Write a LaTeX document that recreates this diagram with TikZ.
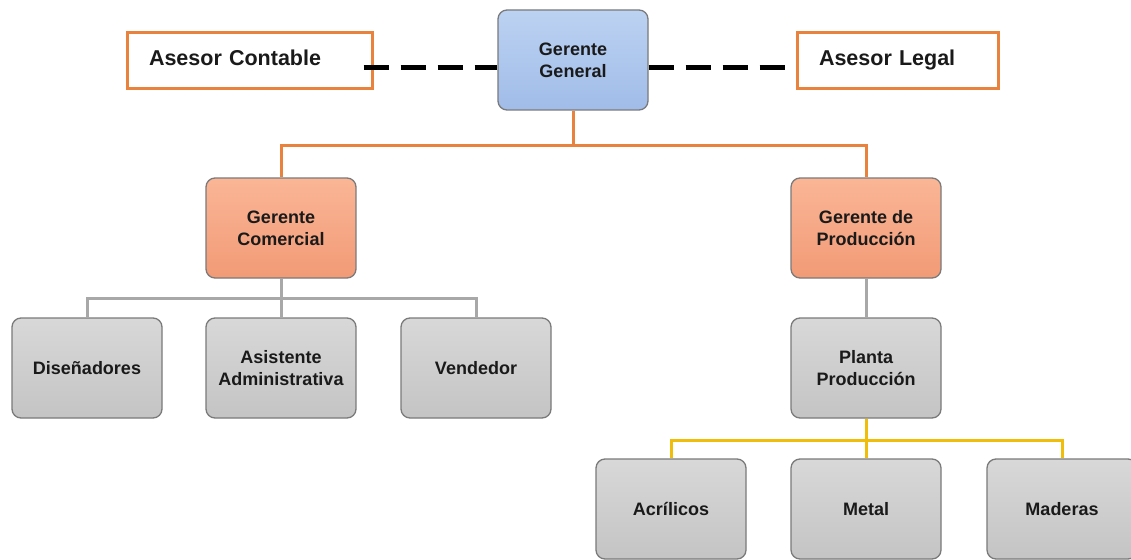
\documentclass[tikz,border=0pt]{standalone}
\usepackage{fontspec}
\setmainfont{Liberation Sans}
\definecolor{orangeline}{HTML}{E8823C}
\definecolor{yellowline}{HTML}{F0BE0A}
\definecolor{grayline}{HTML}{A8A8A8}
\definecolor{boxborder}{HTML}{7A7A7A}
\definecolor{txt}{HTML}{1A1A1A}
\tikzset{
  x=1pt, y=-1pt,
  orgbox/.style={draw=boxborder, line width=1.3pt, rounded corners=9pt,
    minimum width=150pt, minimum height=100pt, align=center, text=txt,
    font=\fontsize{18}{22}\selectfont\bfseries, inner sep=2pt},
  bluebox/.style={orgbox, top color={rgb,255:red,188;green,210;blue,242}, bottom color={rgb,255:red,160;green,188;blue,232}},
  salmonbox/.style={orgbox, top color={rgb,255:red,250;green,182;blue,150}, bottom color={rgb,255:red,242;green,154;blue,118}},
  graybox/.style={orgbox, top color={rgb,255:red,216;green,216;blue,216}, bottom color={rgb,255:red,196;green,196;blue,196}},
  advbox/.style={draw=orangeline, line width=3pt, fill=white, minimum width=245pt, minimum height=56pt,
    text width=201pt, inner xsep=22pt, align=left, text=txt, text depth=7pt,
    font=\fontsize{21.5}{24}\selectfont\bfseries},
  dashline/.style={draw=black, line width=5pt, dash pattern=on 25pt off 12pt},
  oline/.style={draw=orangeline, line width=3pt},
  gline/.style={draw=grayline, line width=3pt},
  yline/.style={draw=yellowline, line width=3pt},
}
\begin{document}
\begin{tikzpicture}
\useasboundingbox (0,0) rectangle (1131,559);
\fill[white] (0,0) rectangle (1131,559);
\node[bluebox] (gg) at (573,60) {Gerente\\General};
\node[advbox] (ac) at (249.5,61) {Asesor Contable};
\node[advbox, minimum width=201pt, text width=157pt] (al) at (897.5,61) {Asesor Legal};
\node[salmonbox] (gc) at (281,228) {Gerente\\Comercial};
\node[salmonbox] (gp) at (866,228) {Gerente de\\Producción};
\node[graybox] (dis) at (87,368) {Diseñadores};
\node[graybox] (asi) at (281,368) {Asistente\\Administrativa};
\node[graybox] (ven) at (476,368) {Vendedor};
\node[graybox] (pp) at (866,368) {Planta\\Producción};
\node[graybox] (acr) at (671,509) {Acrílicos};
\node[graybox] (met) at (866,509) {Metal};
\node[graybox] (mad) at (1062,509) {Maderas};
% dashed advisors
\draw[dashline] ([xshift=-10pt,yshift=-7pt]ac.east) -- ([yshift=-8pt]gg.west);
\draw[dashline] ([yshift=-8pt]gg.east) -- ([yshift=-7pt]al.west);
% tree lines
\draw[oline] (gg.south) -- ++(0,35) -| (gc.north);
\draw[oline] (gg.south) -- ++(0,35) -| (gp.north);
\draw[gline] (gc.south) -- ++(0,20) -| (dis.north);
\draw[gline] (gc.south) -- (asi.north);
\draw[gline] (gc.south) -- ++(0,20) -| (ven.north);
\draw[gline] (gp.south) -- (pp.north);
\draw[yline] (pp.south) -- ++(0,22) -| (acr.north);
\draw[yline] (pp.south) -- (met.north);
\draw[yline] (pp.south) -- ++(0,22) -| (mad.north);
\end{tikzpicture}
\end{document}
